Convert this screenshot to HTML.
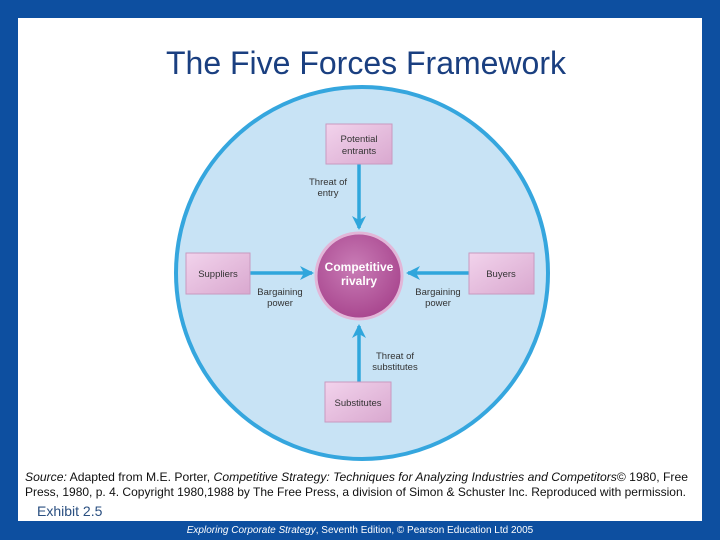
<!DOCTYPE html>
<html><head><meta charset="utf-8"><style>
html,body{margin:0;padding:0;background:#0d4fa0;}
svg{display:block;}
</style></head><body>
<svg width="720" height="540" viewBox="0 0 720 540" xmlns="http://www.w3.org/2000/svg" font-family="Liberation Sans, Arial, sans-serif">
<rect x="0" y="0" width="720" height="540" fill="#0d4fa0"/>
<rect x="18" y="18" width="684" height="503" fill="#ffffff"/>
<text x="366" y="74" text-anchor="middle" font-size="32" fill="#1a3f80" textLength="400" lengthAdjust="spacingAndGlyphs">The Five Forces Framework</text>
<circle cx="362" cy="273" r="186" fill="#c8e3f5" stroke="#35a6de" stroke-width="4"/>
<defs>
<marker id="ah" markerWidth="14" markerHeight="14" refX="12" refY="7" orient="auto" markerUnits="userSpaceOnUse"><path d="M0,0 L14,7 L0,14 L4,7 Z" fill="#2fa6dc"/></marker>
<linearGradient id="bx" x1="0" y1="0" x2="1" y2="1"><stop offset="0" stop-color="#f2d3ec"/><stop offset="1" stop-color="#d9a8cf"/></linearGradient>
<radialGradient id="cc" cx="0.45" cy="0.4" r="0.6"><stop offset="0" stop-color="#c97cb6"/><stop offset="1" stop-color="#a9478f"/></radialGradient>
</defs>
<g stroke="#2fa6dc" stroke-width="3.5" fill="none">
<line x1="359" y1="164" x2="359" y2="228" marker-end="url(#ah)"/>
<line x1="359" y1="382" x2="359" y2="326" marker-end="url(#ah)"/>
<line x1="250" y1="273" x2="312" y2="273" marker-end="url(#ah)"/>
<line x1="469" y1="273" x2="408" y2="273" marker-end="url(#ah)"/>
</g>
<g stroke="#c99ac0" stroke-width="1">
<rect x="326" y="124" width="66" height="40" fill="url(#bx)"/>
<rect x="186" y="253" width="64" height="41" fill="url(#bx)"/>
<rect x="469" y="253" width="65" height="41" fill="url(#bx)"/>
<rect x="325" y="382" width="66" height="40" fill="url(#bx)"/>
</g>
<circle cx="359" cy="276" r="43" fill="url(#cc)" stroke="#e2b6d8" stroke-width="3"/>
<g font-size="9.5" fill="#333" text-anchor="middle">
<text x="359" y="142">Potential</text><text x="359" y="154">entrants</text>
<text x="218" y="277">Suppliers</text>
<text x="501" y="277">Buyers</text>
<text x="358" y="406">Substitutes</text>
<text x="328" y="185">Threat of</text><text x="328" y="196">entry</text>
<text x="280" y="295">Bargaining</text><text x="280" y="306">power</text>
<text x="438" y="295">Bargaining</text><text x="438" y="306">power</text>
<text x="395" y="359">Threat of</text><text x="395" y="370">substitutes</text>
</g>
<g font-size="12" font-weight="bold" fill="#fff" text-anchor="middle">
<text x="359" y="271">Competitive</text><text x="359" y="285">rivalry</text>
</g>
<g font-size="12" fill="#111">
<text x="25" y="481" textLength="663" lengthAdjust="spacingAndGlyphs"><tspan font-style="italic">Source:</tspan> Adapted from M.E. Porter, <tspan font-style="italic">Competitive Strategy: Techniques for Analyzing Industries and Competitors</tspan>© 1980,  Free</text>
<text x="25" y="496" textLength="661" lengthAdjust="spacingAndGlyphs">Press, 1980, p. 4. Copyright 1980,1988 by The Free Press, a division of Simon &amp; Schuster Inc. Reproduced with permission.</text>
</g>
<text x="37" y="516" font-size="14" fill="#2a4f80">Exhibit 2.5</text>
<text x="360" y="533" font-size="10" fill="#fff" text-anchor="middle"><tspan font-style="italic">Exploring Corporate Strategy</tspan>, Seventh Edition, © Pearson Education Ltd 2005</text>
</svg>
</body></html>
